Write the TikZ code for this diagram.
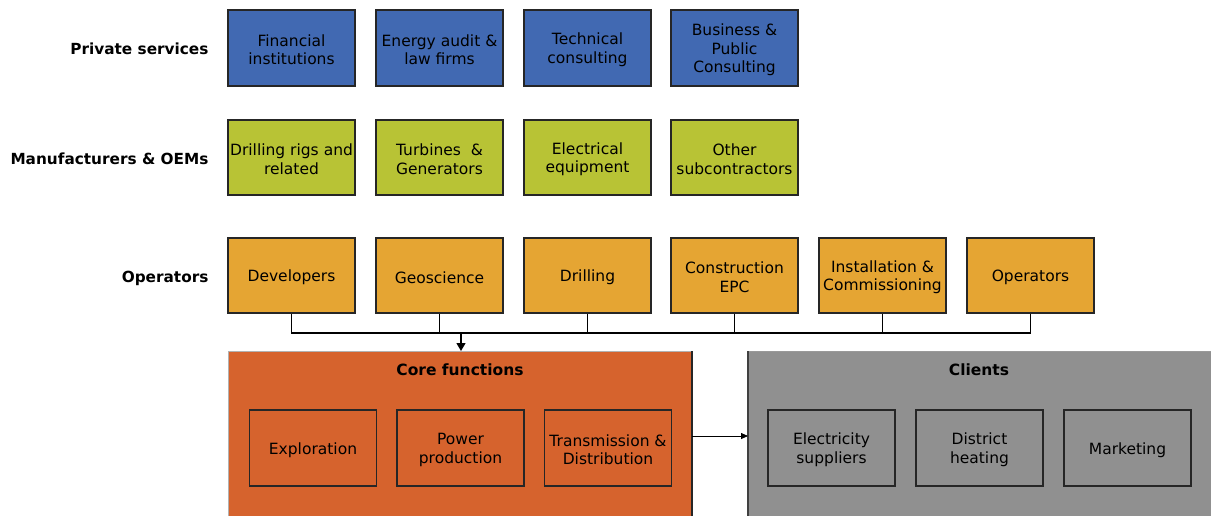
\documentclass[tikz,border=0pt]{standalone}
\usepackage{fontspec}
\setmainfont{DejaVu Sans}
\usetikzlibrary{arrows.meta}
\definecolor{cblue}{HTML}{4169B2}
\definecolor{cgreen}{HTML}{B8C335}
\definecolor{corange}{HTML}{E5A533}
\definecolor{ccore}{HTML}{D6632D}
\definecolor{cgray}{HTML}{909090}
\newcommand\bx[5][76pt]{\node[box,minimum height=#1,fill=#4,label={[boxtext]center:#5}] (#2) at #3 {};}
\begin{document}
\begin{tikzpicture}[x=1pt,y=-1pt,
  box/.style={draw=black!85,line width=1.1pt,minimum width=127pt,inner sep=0pt},
  boxtext/.style={align=center,inner sep=0pt,yshift=-1.8pt,font=\fontsize{15.5}{18.5}\selectfont},
  rowlabel/.style={anchor=east,font=\bfseries\fontsize{15.3}{18}\selectfont},
  title/.style={font=\bfseries\fontsize{15.5}{18}\selectfont},
  conn/.style={line width=1.3pt,black}]
\useasboundingbox (0,0) rectangle (1211,515);
% row labels
\node[rowlabel] (l1) at (212,49) {Private services};
\node[rowlabel] (l2) at (212,159) {Manufacturers \& OEMs};
\node[rowlabel] (l3) at (212,278) {Operators};
% row 1
\bx{p1}{(291.5,48)}{cblue}{Financial\\institutions}
\bx{p2}{(439.5,48)}{cblue}{Energy audit \&\\law firms}
\bx{p3}{(587.5,48)}{cblue}{Technical\\consulting}
\bx{p4}{(734.5,48)}{cblue}{Business \&\\Public\\Consulting}
% row 2
\bx[75pt]{m1}{(291.5,157.5)}{cgreen}{Drilling rigs and\\related}
\bx[75pt]{m2}{(439.5,157.5)}{cgreen}{Turbines~~\&\\Generators}
\bx[75pt]{m3}{(587.5,157.5)}{cgreen}{Electrical\\equipment}
\bx[75pt]{m4}{(734.5,157.5)}{cgreen}{Other\\subcontractors}
% row 3
\bx[75pt]{o1}{(291.5,275.5)}{corange}{Developers}
\bx[75pt]{o2}{(439.5,275.5)}{corange}{Geoscience}
\bx[75pt]{o3}{(587.5,275.5)}{corange}{Drilling}
\bx[75pt]{o4}{(734.5,275.5)}{corange}{Construction\\EPC}
\bx[75pt]{o5}{(882.5,275.5)}{corange}{Installation \&\\Commissioning}
\bx[75pt]{o6}{(1030.5,275.5)}{corange}{Operators}
% core functions container
\fill[ccore] (228,351) rectangle (692,516);
\draw[black!30,line width=0.8pt] (228,516) -- (228,351) -- (692,351);
\draw[black!85,line width=1.1pt] (692,351) -- (692,516);
\coordinate (coretop) at (461,351);
\coordinate (coreright) at (692,436);
\node[title] (ct) at (460,369.5) {Core functions};
\bx{c1}{(313,448)}{ccore}{Exploration}
\bx{c2}{(460.5,448)}{ccore}{Power\\production}
\bx{c3}{(608,448)}{ccore}{Transmission \&\\Distribution}
% clients container
\fill[cgray] (748,351) rectangle (1212,516);
\draw[black!40,line width=0.8pt] (748,351) -- (1212,351);
\draw[black!75,line width=1.1pt] (748,351) -- (748,516);
\coordinate (clientleft) at (748,436);
\node[title] (clt) at (979,369.5) {Clients};
\bx{k1}{(831.5,448)}{cgray}{Electricity\\suppliers}
\bx{k2}{(979.5,448)}{cgray}{District\\heating}
\bx{k3}{(1127.5,448)}{cgray}{Marketing}
% bus connectors
\coordinate (bus) at (461,333);
\draw[conn] (o1.south) |- (o6.south |- bus) -- (o6.south);
\foreach \n in {o2,o3,o4,o5} \draw[conn] (\n.south) -- (\n.south |- bus);
\draw[conn,-{Triangle[length=8pt,width=9pt]}] (bus) -- (coretop);
\draw[line width=0.8pt,-{Triangle[length=7pt,width=6pt]}] (coreright) -- (clientleft);
\end{tikzpicture}
\end{document}
